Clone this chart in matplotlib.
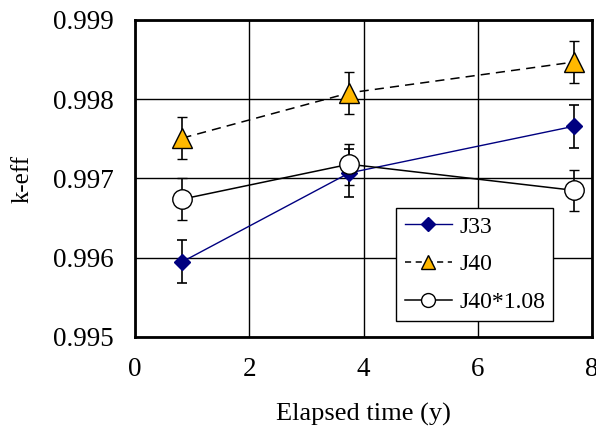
import matplotlib
matplotlib.use("Agg")
import matplotlib.pyplot as plt
from matplotlib.lines import Line2D

plt.rcParams['font.family'] = ['Liberation Serif', 'DejaVu Serif']

years = [0.83, 3.75, 7.69]
j33 = [0.99595, 0.99707, 0.99766]
j33_err = [0.00027, 0.00030, 0.00027]
j40 = [0.99751, 0.99808, 0.99847]
j40_err = [0.00026, 0.00027, 0.00026]
j40s = [0.99674, 0.99718, 0.99685]
j40s_err = [0.00026, 0.00026, 0.00026]

x_ticks = [0, 2, 4, 6, 8]
y_ticks = [0.995, 0.996, 0.997, 0.998, 0.999]

fig = plt.figure(figsize=(5.96, 4.29), dpi=100)
ax = fig.add_axes([0.2265, 0.2145, 0.9933 - 0.2265, 0.9534 - 0.2145])

NAVY = '#000080'
GOLD = '#FFB800'
ekw = dict(ecolor='black', elinewidth=1.2, capsize=3.3, capthick=1.2)
ax.errorbar(years, j33, yerr=j33_err, color=NAVY, lw=1.0, marker='D',
            ms=8, mfc=NAVY, mec=NAVY, zorder=3, **ekw)
ax.errorbar(years, j40, yerr=j40_err, color='black', lw=1.1, ls=(0, (6, 4)),
            marker='^', ms=14, mfc=GOLD, mec='black', mew=1.0,
            zorder=3, **ekw)
ax.errorbar(years, j40s, yerr=j40s_err, color='black', lw=1.1, marker='o',
            ms=14, mfc='white', mec='black', mew=1.0, zorder=3, **ekw)

ax.set_xlim(0, 8)
ax.set_ylim(0.995, 0.999)
ax.set_xticks(x_ticks)
ax.set_yticks(y_ticks)
ax.set_yticklabels([f"{v:.3f}" for v in y_ticks])
ax.grid(True, color='black', lw=1.0)
ax.set_axisbelow(True)
for s in ax.spines.values():
    s.set_linewidth(2.0)
ax.tick_params(axis='both', length=0, labelsize=19.5)
ax.tick_params(axis='x', pad=14.5)
ax.tick_params(axis='y', pad=15)

ax.set_xlabel('Elapsed time (y)', fontsize=19, labelpad=15)
ax.set_ylabel('k-eff', fontsize=18, labelpad=14)

handles = [
    Line2D([], [], color=NAVY, lw=1.0, marker='D', ms=7, mfc=NAVY, mec=NAVY),
    Line2D([], [], color='black', lw=1.1, ls=(0, (4, 3)), marker='^', ms=10,
           mfc=GOLD, mec='black', mew=1.0),
    Line2D([], [], color='black', lw=1.1, marker='o', ms=10, mfc='white',
           mec='black', mew=1.0),
]
labels = ['J33', 'J40', 'J40*1.08']
leg = ax.legend(handles, labels, loc='lower right',
                bbox_to_anchor=(0.915, 0.05), fontsize=17,
                frameon=True, fancybox=False, edgecolor='black',
                framealpha=1, handlelength=2.0, borderpad=0.35,
                labelspacing=0.68, handletextpad=0.3, borderaxespad=0)
leg.get_frame().set_linewidth(1.0)

fig.savefig('out.png', dpi=100)
